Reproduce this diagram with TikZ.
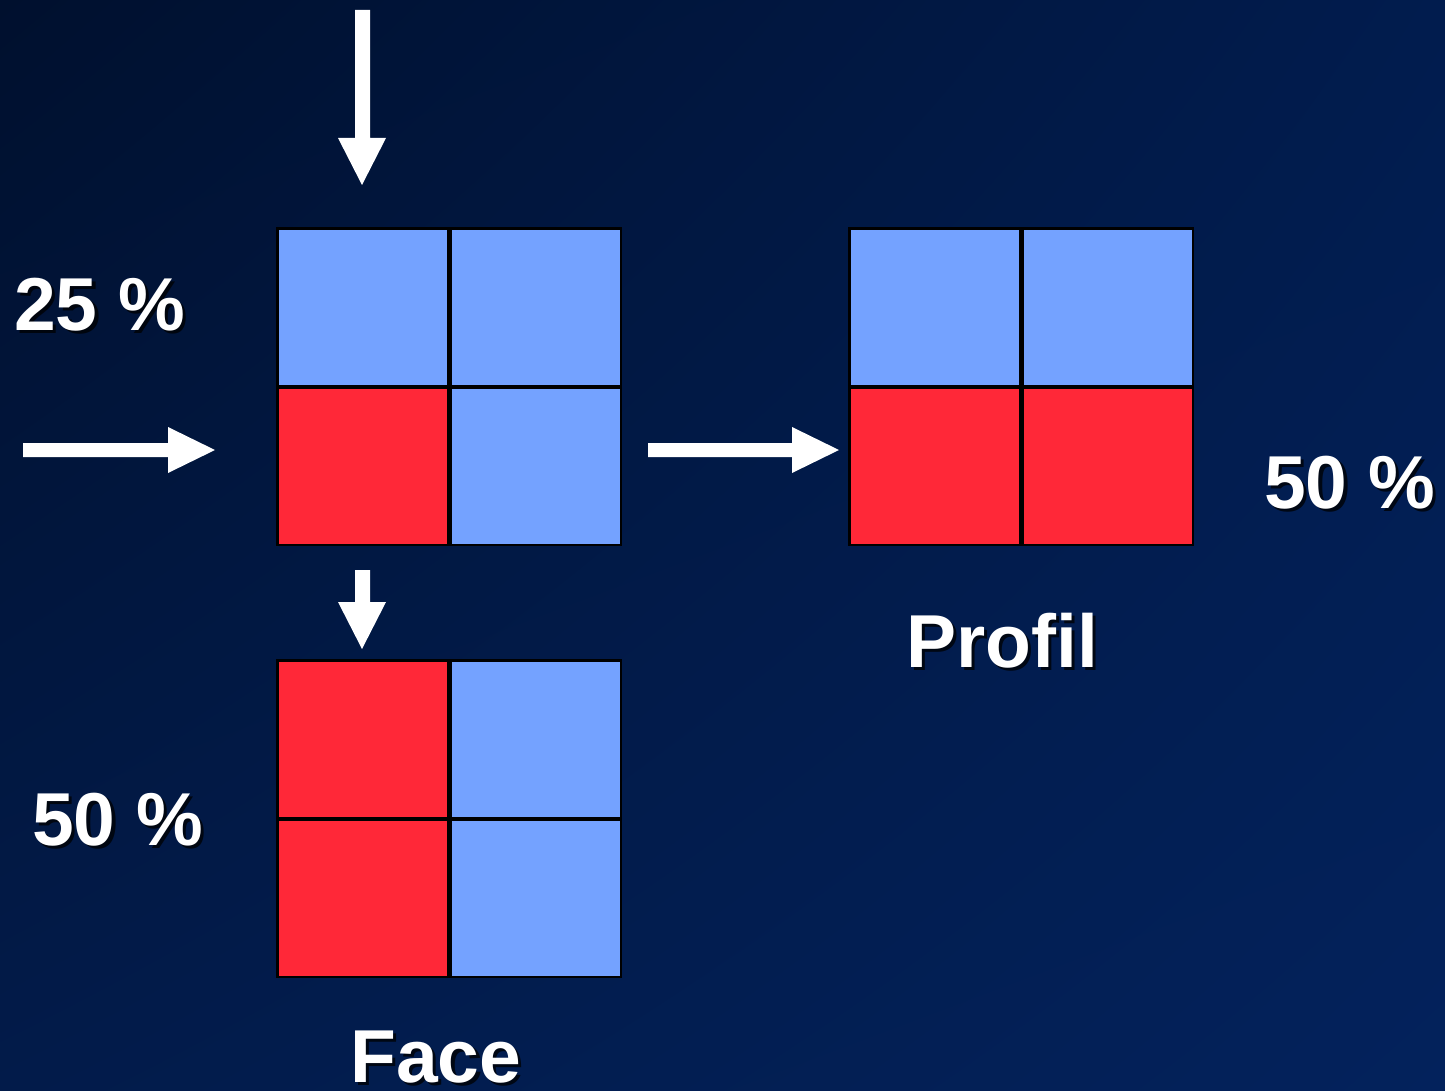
\documentclass[tikz,border=0pt]{standalone}
\usepackage{fontspec}
\setmainfont{Liberation Sans}
\usetikzlibrary{shadings}
\definecolor{cellblue}{RGB}{116,162,255}
\definecolor{cellred}{RGB}{255,40,56}
\definecolor{bgA}{RGB}{0,16,46}
\definecolor{bgB}{RGB}{1,28,78}
\definecolor{bgC}{RGB}{2,27,74}
\definecolor{bgD}{RGB}{3,34,92}
\tikzset{
  cell/.style={draw=black, line width=1pt, minimum width=169pt, minimum height=156pt, inner sep=0pt, anchor=north west},
  frame/.style={fill=black},
  whitearrow/.style={fill=white, draw=none},
  lbl/.style={font=\fontsize{75}{80}\selectfont\bfseries, inner sep=0pt, anchor=base west},
}
% 2x2 grid: name prefix, top-left corner, first three cell colours
\newcommand\quadgrid[6]{%
  \fill[frame] (#2,#3) rectangle ++(346,319);
  \node[cell, fill=#4] (#1-11) at (#2+2,#3+2) {};
  \node[cell, fill=#5] (#1-12) at (#2+175,#3+2) {};
  \node[cell, fill=#6] (#1-21) at (#2+2,#3+161) {};
}
\newcommand\lastcell[4]{\node[cell, fill=#4] (#1-22) at (#2+175,#3+161) {};}
% label with a drop shadow
\newcommand\shadowlabel[4]{%
  \node[lbl, text=black, opacity=0.75] at (#2+3.5,#3+3.5) {#4};
  \node[lbl, text=white] (#1) at (#2,#3) {#4};
}
\begin{document}
\begin{tikzpicture}[x=1pt, y=-1pt]
  \useasboundingbox (0,0) rectangle (1445,1091);
  \shade[upper left=bgA, upper right=bgB, lower left=bgC, lower right=bgD] (0,0) rectangle (1445,1091);

  % input grid
  \quadgrid{g}{276}{227}{cellblue}{cellblue}{cellred}
  \lastcell{g}{276}{227}{cellblue}
  % profile grid
  \quadgrid{p}{848}{227}{cellblue}{cellblue}{cellred}
  \lastcell{p}{848}{227}{cellred}
  % face grid
  \quadgrid{f}{276}{659}{cellred}{cellblue}{cellred}
  \lastcell{f}{276}{659}{cellblue}

  % arrows
  \fill[whitearrow] (355,10) -- (370,10) -- (370,138) -- (386,138) -- (362,185) -- (338,138) -- (355,138) -- cycle;
  \fill[whitearrow] (23,443) -- (168,443) -- (168,427) -- (215,450) -- (168,473) -- (168,457) -- (23,457) -- cycle;
  \fill[whitearrow] (648,443) -- (792,443) -- (792,427) -- (839,450) -- (792,473) -- (792,457) -- (648,457) -- cycle;
  \fill[whitearrow] (355,570) -- (370,570) -- (370,602) -- (386,602) -- (362,649) -- (338,602) -- (355,602) -- cycle;

  % labels
  \shadowlabel{l25}{14}{330}{25 \%}
  \shadowlabel{l50a}{32}{845}{50 \%}
  \shadowlabel{l50b}{1264}{508}{50 \%}
  \shadowlabel{lprofil}{906}{667}{Profil}
  \shadowlabel{lface}{350}{1082}{Face}
\end{tikzpicture}
\end{document}
